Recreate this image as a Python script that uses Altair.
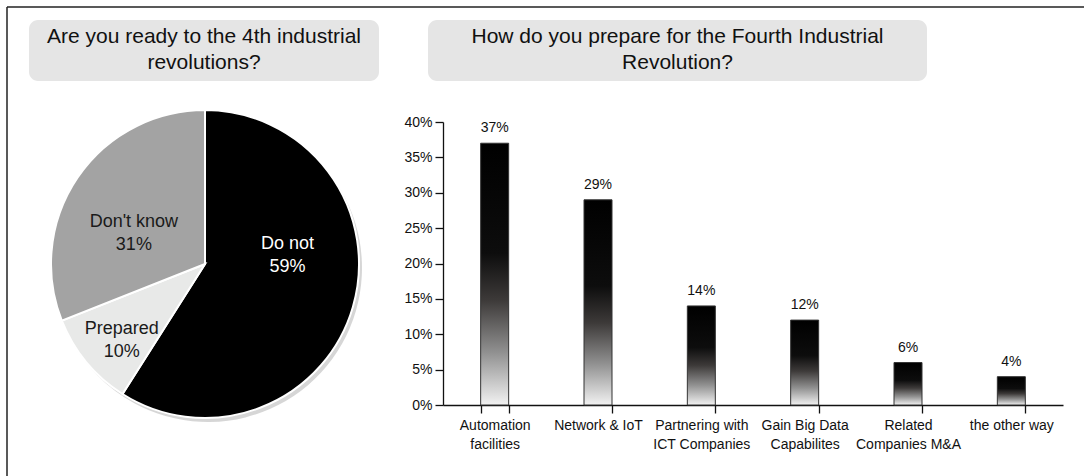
import altair as alt
import pandas as pd

# ---- data ----
pie_labels = ["Do not", "Prepared", "Don't know"]
pie_values = [59, 10, 31]
pie_colors = ["#000000", "#e8e9e8", "#a3a3a3"]

bar_categories = ["Automation\nfacilities", "Network & IoT", "Partnering with\nICT Companies",
                  "Gain Big Data\nCapabilites", "Related\nCompanies M&A", "the other way"]
bar_values = [37, 29, 14, 12, 6, 4]

left_title = "Are you ready to the 4th industrial\nrevolutions?"
right_title = "How do you prepare for the Fourth Industrial\nRevolution?"
y_ticks = [0, 0.05, 0.10, 0.15, 0.20, 0.25, 0.30, 0.35, 0.40]

FONT = "Liberation Sans, Arial, sans-serif"

pie_df = pd.DataFrame({
    "label": pie_labels,
    "value": pie_values,
    "idx": list(range(len(pie_labels))),
    "text": [f"{l}\n{v}%" for l, v in zip(pie_labels, pie_values)],
})
bar_df = pd.DataFrame({
    "category": bar_categories,
    "share": [v / 100 for v in bar_values],
    "text": [f"{v}%" for v in bar_values],
})

# plot origin of bar chart = (443,122) in page pixels
OX, OY = 443, 122
W, H = 620, 283
def px(x): return x - OX
def py(y): return y - OY

one = pd.DataFrame({"k": [0]})

# ---- frame (top and left edges of the cropped outer box) ----
top_edge = alt.Chart(one).mark_rule(color="#222222", strokeWidth=1.5).encode(
    x=alt.value(px(7)), x2=alt.value(px(1084)), y=alt.value(py(7)))
left_edge = alt.Chart(one).mark_rule(color="#222222", strokeWidth=1.5).encode(
    x=alt.value(px(7)), y=alt.value(py(7)), y2=alt.value(py(476)))

def title_layer(text, x1, x2):
    df = pd.DataFrame({"title": [text]})
    box = alt.Chart(df).mark_rect(fill="#e5e5e5", cornerRadius=9).encode(
        x=alt.value(px(x1)), x2=alt.value(px(x2)), y=alt.value(py(20)), y2=alt.value(py(81)))
    txt = alt.Chart(df).mark_text(
        font=FONT, fontSize=21, color="#111111", lineBreak="\n", lineHeight=26,
        align="center", baseline="middle"
    ).encode(x=alt.value(px((x1 + x2) / 2)), y=alt.value(py(37)), text="title:N")
    return box + txt

left_t = title_layer(left_title, 29, 379)
right_t = title_layer(right_title, 428, 927)

# ---- pie ----
CX, CY, R = px(205), py(264), 154
theta = alt.Theta("value:Q", stack=True)
order = alt.Order("idx:Q")
shadow = alt.Chart(pie_df).mark_arc(radius=R, color="#8a8a8a", opacity=0.35).encode(
    theta=theta, order=order, x=alt.value(CX + 3), y=alt.value(CY + 4))
pie = alt.Chart(pie_df).mark_arc(radius=R, stroke="white", strokeWidth=2).encode(
    theta=theta, order=order,
    color=alt.Color("label:N", scale=alt.Scale(domain=pie_labels, range=pie_colors), legend=None),
    x=alt.value(CX), y=alt.value(CY))

def pie_label(name, radius, dy, color):
    return alt.Chart(pie_df).mark_text(
        radius=radius, dy=dy, font=FONT, fontSize=18, lineBreak="\n", lineHeight=23,
        color=color, align="center", baseline="middle"
    ).encode(
        theta=theta, order=order, x=alt.value(CX), y=alt.value(CY),
        text=alt.condition(alt.datum.label == name, "text:N", alt.value("")),
    )

lab_do = pie_label("Do not", 86, -44, "white")
lab_prep = pie_label("Prepared", 108, -4, "#1a1a1a")
lab_dk = pie_label("Don't know", 86, 6, "#1a1a1a")

# ---- bars ----
grad = alt.Gradient(
    gradient="linear", x1=0, y1=0, x2=0, y2=1,
    stops=[
        alt.GradientStop(color="#000000", offset=0),
        alt.GradientStop(color="#0d0d0d", offset=0.42),
        alt.GradientStop(color="#3d3a39", offset=0.6),
        alt.GradientStop(color="#919191", offset=0.8),
        alt.GradientStop(color="#f2f2f2", offset=1),
    ],
)
xaxis = alt.Axis(labelAngle=0, labelExpr="split(datum.label, '\\n')", tickBand="extent",
                 labelFont=FONT, labelFontSize=14, labelColor="#111111", labelLineHeight=19,
                 labelPadding=5, tickSize=8, tickColor="#111111", domainColor="#111111",
                 tickWidth=1.3, domainWidth=1.3, labelBaseline="top")
yaxis = alt.Axis(values=y_ticks, format=".0%", grid=False, labelFont=FONT, labelFontSize=14,
                 labelColor="#111111", tickSize=8, tickColor="#111111", domainColor="#111111",
                 tickWidth=1.3, domainWidth=1.3, labelPadding=3, labelOverlap=False)
xscale = alt.Scale(paddingInner=0.73, paddingOuter=0.365)
yscale = alt.Scale(domain=[0, 0.4], nice=False)
xenc = alt.X("category:N", sort=bar_categories, title=None, scale=xscale, axis=xaxis)
yenc = alt.Y("share:Q", title=None, scale=yscale, axis=yaxis)

bars = alt.Chart(bar_df).mark_bar(color=grad, stroke="#333333", strokeWidth=1, size=28).encode(
    x=xenc, y=yenc)
bar_text = alt.Chart(bar_df).mark_text(
    font=FONT, fontSize=14, color="#111111", baseline="bottom", dy=-8
).encode(x=xenc, y=yenc, text="text:N")

chart = alt.layer(
    top_edge, left_edge, left_t, right_t, shadow, pie, lab_do, lab_prep, lab_dk, bars, bar_text
).properties(
    width=W, height=H,
    padding={"left": OX, "top": OY, "right": 1084 - OX - W, "bottom": 476 - OY - H},
    autosize=alt.AutoSizeParams(type="none"),
    background="white",
).configure_view(stroke=None)

chart.save("out.html", embed_options={"renderer": "svg", "actions": False})
